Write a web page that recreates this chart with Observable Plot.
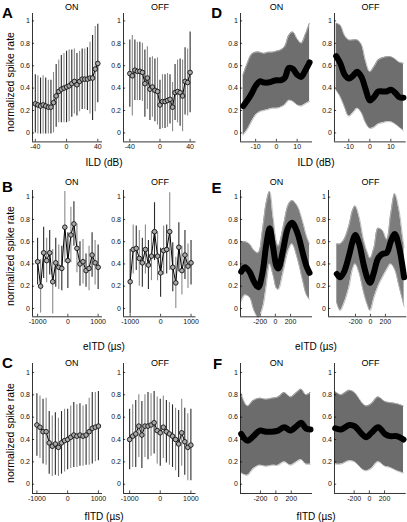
<!DOCTYPE html>
<html><head><meta charset="utf-8">
<script src="https://cdn.jsdelivr.net/npm/d3@7"></script>
<script src="https://cdn.jsdelivr.net/npm/@observablehq/plot@0.6"></script>
<style>
body{margin:0;background:#fff;}
#root{position:relative;width:407px;height:522px;overflow:hidden;font-family:"Liberation Sans",Arial,sans-serif;background:#fff;}
.t{position:absolute;white-space:nowrap;color:#000;line-height:1;transform:translate(-50%,-50%);}
</style></head><body><div id="root"></div>
<script>
// ---------- data ----------
const yTicks = [0, 0.2, 0.4, 0.6, 0.8, 1];
const ildTicks = [-40, 0, 40];
const itdTicksWide = [-1000, 0, 1000];
const ildTicksNarrow = [-10, 0, 10];
const itdTicksNarrow = [-200, 0, 200];

// Panel A (ILD, mean ± sd)
const ildA = [-40,-36.7,-33.3,-30,-26.7,-23.3,-20,-16.7,-13.3,-10,-6.7,-3.3,0,3.3,6.7,10,13.3,16.7,20,23.3,26.7,30,33.3,36.7,40];
const aOnMean = [0.26,0.25,0.24,0.25,0.24,0.23,0.23,0.27,0.33,0.37,0.39,0.40,0.41,0.42,0.44,0.46,0.43,0.46,0.48,0.48,0.48,0.49,0.49,0.57,0.62];
const aOnSd   = [0.26,0.26,0.25,0.26,0.25,0.24,0.24,0.27,0.28,0.28,0.30,0.31,0.32,0.32,0.30,0.29,0.28,0.27,0.27,0.27,0.28,0.32,0.38,0.38,0.35];
const aOffMean = [0.53,0.51,0.56,0.55,0.55,0.54,0.44,0.49,0.39,0.41,0.38,0.37,0.25,0.28,0.28,0.29,0.30,0.23,0.36,0.37,0.36,0.33,0.46,0.45,0.54];
const aOffSd   = [0.30,0.36,0.27,0.26,0.26,0.26,0.30,0.28,0.28,0.27,0.28,0.30,0.22,0.24,0.24,0.24,0.22,0.22,0.25,0.28,0.30,0.32,0.30,0.30,0.36];

// Panels B and C (ITD, mean ± sd)
const itdBC = [-1000,-900,-800,-700,-600,-500,-400,-300,-200,-100,0,100,200,300,400,500,600,700,800,900,1000];
const bOnMean = [0.42,0.20,0.50,0.43,0.50,0.24,0.41,0.37,0.36,0.73,0.43,0.66,0.76,0.54,0.40,0.42,0.34,0.36,0.48,0.41,0.37];
const bOnSd   = [0.21,0.24,0.23,0.20,0.20,0.29,0.22,0.20,0.20,0.32,0.25,0.25,0.20,0.22,0.20,0.20,0.15,0.20,0.20,0.20,0.20];
const bOffMean = [0.24,0.53,0.54,0.45,0.41,0.53,0.39,0.47,0.69,0.47,0.32,0.52,0.53,0.69,0.37,0.23,0.55,0.34,0.48,0.38,0.41];
const bOffSd   = [0.29,0.22,0.20,0.25,0.22,0.22,0.22,0.22,0.26,0.22,0.22,0.22,0.22,0.35,0.22,0.23,0.22,0.22,0.22,0.20,0.20];
const cOnMean = [0.53,0.51,0.47,0.47,0.37,0.34,0.36,0.33,0.37,0.39,0.40,0.42,0.44,0.43,0.44,0.43,0.44,0.47,0.50,0.51,0.52];
const cOnSd   = [0.28,0.28,0.29,0.30,0.28,0.27,0.28,0.26,0.28,0.28,0.27,0.28,0.29,0.28,0.28,0.27,0.27,0.30,0.32,0.31,0.31];
const cOffMean = [0.40,0.43,0.45,0.52,0.44,0.52,0.52,0.53,0.55,0.48,0.46,0.51,0.47,0.45,0.43,0.40,0.36,0.46,0.38,0.33,0.35];
const cOffSd   = [0.27,0.28,0.30,0.28,0.30,0.28,0.30,0.28,0.28,0.30,0.30,0.28,0.28,0.28,0.28,0.28,0.30,0.30,0.30,0.30,0.32];

// Panel D (ILD, mean with band)
const ildD = [-16,-14,-12,-10,-8,-6,-4,-2,0,2,4,6,8,10,12,14,16];
const dOnMean = [0.24,0.29,0.35,0.42,0.46,0.45,0.45,0.46,0.47,0.47,0.49,0.58,0.57,0.52,0.50,0.56,0.63];
const dOnHi   = [0.52,0.62,0.70,0.72,0.72,0.71,0.72,0.72,0.73,0.74,0.77,0.87,0.90,0.84,0.80,0.88,0.98];
const dOnLo   = [-0.02,0.03,0.10,0.16,0.19,0.20,0.21,0.22,0.22,0.23,0.25,0.29,0.28,0.25,0.24,0.26,0.28];
const dOffMean = [0.685,0.62,0.52,0.485,0.51,0.545,0.50,0.39,0.29,0.32,0.37,0.37,0.37,0.385,0.36,0.32,0.315];
const dOffHi   = [0.98,0.96,0.87,0.83,0.83,0.83,0.79,0.64,0.545,0.59,0.65,0.67,0.68,0.68,0.66,0.63,0.62];
const dOffLo   = [0.38,0.32,0.23,0.15,0.18,0.22,0.18,0.09,0.04,0.05,0.08,0.09,0.10,0.10,0.08,0.05,0.02];

// Panel E (eITD, mean with band)
const eOnX    = [-450,-400,-340,-280,-225,-170,-120,-75,-30,15,40,100,170,220,290,360,410,450];
const eOnMean = [0.33,0.37,0.33,0.24,0.19,0.32,0.57,0.72,0.55,0.38,0.36,0.52,0.73,0.77,0.68,0.50,0.38,0.32];
const eOnHi   = [0.60,0.60,0.58,0.52,0.50,0.70,0.95,1.05,0.82,0.60,0.56,0.72,0.93,0.97,0.92,0.78,0.65,0.58];
const eOnLo   = [0.06,0.12,0.10,-0.02,-0.08,0.00,0.20,0.40,0.30,0.18,0.17,0.32,0.52,0.58,0.45,0.25,0.12,0.08];
const eOffX    = [-450,-405,-352,-285,-240,-204,-151,-93,-40,-5,49,102,161,218,272,325,383,428,450];
const eOffMean = [0.31,0.28,0.33,0.48,0.60,0.66,0.58,0.40,0.27,0.23,0.33,0.45,0.49,0.50,0.60,0.67,0.55,0.38,0.28];
const eOffHi   = [0.58,0.58,0.62,0.75,0.88,0.92,0.82,0.62,0.50,0.45,0.55,0.72,0.70,0.62,0.85,1.03,0.88,0.65,0.55];
const eOffLo   = [0.05,-0.02,0.05,0.20,0.35,0.40,0.32,0.15,0.03,-0.02,0.10,0.20,0.28,0.35,0.40,0.35,0.20,0.08,0.02];

// Panel F (fITD, mean with band)
const fOnX    = [-450,-370,-290,-210,-130,-50,30,110,190,270,330,390,450];
const fOnMean = [0.45,0.39,0.43,0.48,0.47,0.47,0.48,0.51,0.48,0.52,0.55,0.50,0.49];
const fOnHi   = [0.81,0.70,0.75,0.77,0.76,0.77,0.78,0.82,0.78,0.82,0.85,0.80,0.82];
const fOnLo   = [0.10,0.08,0.14,0.17,0.16,0.17,0.17,0.20,0.17,0.20,0.22,0.18,0.18];
const fOffX    = [-450,-374,-263,-196,-85,-39,27,116,205,272,362,450];
const fOffMean = [0.50,0.49,0.53,0.52,0.44,0.42,0.46,0.51,0.45,0.43,0.43,0.40];
const fOffHi   = [0.83,0.80,0.84,0.82,0.72,0.70,0.72,0.78,0.74,0.73,0.72,0.70];
const fOffLo   = [0.18,0.18,0.21,0.20,0.13,0.12,0.14,0.20,0.16,0.15,0.12,0.10];

// ---------- drawing ----------
const root = document.getElementById("root");
const FONT = "'Liberation Sans', Arial, sans-serif";

function addText(txt, x, y, size, extra) {
  const d = document.createElement("div");
  d.className = "t";
  d.textContent = txt;
  d.style.left = x + "px";
  d.style.top = y + "px";
  d.style.fontSize = size + "px";
  if (extra) Object.assign(d.style, extra);
  root.appendChild(d);
}

const errTable = (xs, m, s) => xs.map((x, i) => ({x, m: m[i], s: s[i], i}));
const bandTable = (xs, m, lo, hi) => xs.map((x, i) => ({x, m: m[i], lo: lo[i], hi: hi[i]}));

function errMarks(t) {
  return [
    Plot.ruleX(t, {x: "x", y1: d => d.m - d.s, y2: d => d.m + d.s, stroke: d => d.i % 2 ? "#8a8a8a" : "#2a2a2a", strokeWidth: 1.1}),
    Plot.line(t, {x: "x", y: "m", stroke: "#000", strokeWidth: 1}),
    Plot.dot(t, {x: "x", y: "m", r: 2.3, stroke: "#111", fill: "#a8a8a8", strokeWidth: 0.9})
  ];
}
function bandMarks(t, fill) {
  return [
    Plot.areaY(t, {x: "x", y1: "lo", y2: "hi", curve: "catmull-rom", fill: fill}),
    Plot.line(t, {x: "x", y: "hi", curve: "catmull-rom", stroke: "#b5b5b5", strokeWidth: 0.9}),
    Plot.line(t, {x: "x", y: "lo", curve: "catmull-rom", stroke: "#b5b5b5", strokeWidth: 0.9}),
    Plot.line(t, {x: "x", y: "m", curve: "catmull-rom", stroke: "#000", strokeWidth: 6, strokeLinecap: "round", strokeLinejoin: "round"})
  ];
}

function panel(p) {
  const mL = 26, mR = 4, mT = 4, mB = 14;
  const w = p.right - p.left, h = p.bottom - p.top;
  const [x0, x1] = p.xdom, [y0, y1] = p.ydom;
  const svg = Plot.plot({
    width: w + mL + mR, height: h + mT + mB,
    marginLeft: mL, marginRight: mR, marginTop: mT, marginBottom: mB,
    x: {domain: p.xdom}, y: {domain: p.ydom},
    style: {fontFamily: FONT, fontSize: "7px", background: "transparent", overflow: "visible", color: "#000"},
    marks: [
      ...p.marks,
      Plot.ruleX([x0], {stroke: "#000", strokeWidth: 0.8}),
      Plot.ruleY([y0], {stroke: "#000", strokeWidth: 0.8}),
      Plot.ruleY(yTicks, {y: d => d, x1: x0, x2: x0 + (x1 - x0) * 0.03, stroke: "#000", strokeWidth: 0.7}),
      Plot.ruleX(p.xticks, {x: d => d, y1: y0, y2: y0 + (y1 - y0) * 0.02, stroke: "#000", strokeWidth: 0.7}),
      Plot.axisY({ticks: yTicks, tickSize: 0, tickPadding: 2.5, tickFormat: d => String(d), label: null, fill: "#111"}),
      Plot.axisX({ticks: p.xticks, tickSize: 0, tickPadding: 2.5, tickFormat: d => String(d), label: null, fill: "#111"})
    ]
  });
  svg.style.position = "absolute";
  svg.style.left = (p.left - mL) + "px";
  svg.style.top = (p.top - mT) + "px";
  root.appendChild(svg);
}

const rows = [
  {top: 13.3, bottom: 141.7, ydom: [-0.08, 1.066]},
  {top: 190, bottom: 316.3, ydom: [-0.075, 1.06]},
  {top: 363.3, bottom: 493.3, ydom: [-0.083, 1.08]}
];
const cols = [[31.5, 101.5], [122.5, 195], [240, 312], [334.3, 406]];

const specs = [
  {r: 0, c: 0, xdom: [-43.6, 46], xticks: ildTicks, marks: errMarks(errTable(ildA, aOnMean, aOnSd))},
  {r: 0, c: 1, xdom: [-48.4, 47.8], xticks: ildTicks, marks: errMarks(errTable(ildA, aOffMean, aOffSd))},
  {r: 0, c: 2, xdom: [-17.3, 17.4], xticks: ildTicksNarrow, marks: bandMarks(bandTable(ildD, dOnMean, dOnLo, dOnHi), "#6e6e6e")},
  {r: 0, c: 3, xdom: [-16.8, 17.3], xticks: ildTicksNarrow, marks: bandMarks(bandTable(ildD, dOffMean, dOffLo, dOffHi), "#6e6e6e")},
  {r: 1, c: 0, xdom: [-1168, 1144], xticks: itdTicksWide, marks: errMarks(errTable(itdBC, bOnMean, bOnSd))},
  {r: 1, c: 1, xdom: [-1219, 1163], xticks: itdTicksWide, marks: errMarks(errTable(itdBC, bOffMean, bOffSd))},
  {r: 1, c: 2, xdom: [-459, 489], xticks: itdTicksNarrow, marks: bandMarks(bandTable(eOnX, eOnMean, eOnLo, eOnHi), "#7c7c7c")},
  {r: 1, c: 3, left: 327.7, xdom: [-561, 486], xticks: itdTicksNarrow, marks: bandMarks(bandTable(eOffX, eOffMean, eOffLo, eOffHi), "#7c7c7c")},
  {r: 2, c: 0, xdom: [-1143, 1133], xticks: itdTicksWide, marks: errMarks(errTable(itdBC, cOnMean, cOnSd))},
  {r: 2, c: 1, xdom: [-1200, 1167], xticks: itdTicksWide, marks: errMarks(errTable(itdBC, cOffMean, cOffSd))},
  {r: 2, c: 2, xdom: [-459, 476], xticks: itdTicksNarrow, marks: bandMarks(bandTable(fOnX, fOnMean, fOnLo, fOnHi), "#6c6c6c")},
  {r: 2, c: 3, xdom: [-459, 485], xticks: itdTicksNarrow, marks: bandMarks(bandTable(fOffX, fOffMean, fOffLo, fOffHi), "#6c6c6c")}
];

for (const s of specs) {
  const row = rows[s.r], col = cols[s.c];
  panel({left: s.left ?? col[0], right: col[1], top: row.top, bottom: row.bottom, ydom: row.ydom, xdom: s.xdom, xticks: s.xticks, marks: s.marks});
}

// titles, letters, axis labels
const titleX = [71.7, 160, 276.5, 370.5];
const titleY = [6.7, 181.7, 363.3];
titleY.forEach(y => titleX.forEach((x, c) => addText(c % 2 ? "OFF" : "ON", x, y, 9)));

const letters = [["A", 7.5, 11.7], ["B", 7.5, 185.5], ["C", 7.5, 362], ["D", 216.7, 11.7], ["E", 216.5, 187.2], ["F", 217.5, 363]];
letters.forEach(([t, x, y]) => addText(t, x, y, 15, {fontWeight: "bold"}));

[82, 256, 433].forEach(y => addText("normalized spike rate", 9.5, y, 10.5, {transform: "translate(-50%,-50%) rotate(-90deg)"}));

const xLabels = [["ILD (dB)", 163], ["eITD (\u00b5s)", 346.7], ["fITD (\u00b5s)", 516.7]];
xLabels.forEach(([t, y]) => { addText(t, 104, y, 10); addText(t, 316, y, 10); });
</script>
</body></html>
